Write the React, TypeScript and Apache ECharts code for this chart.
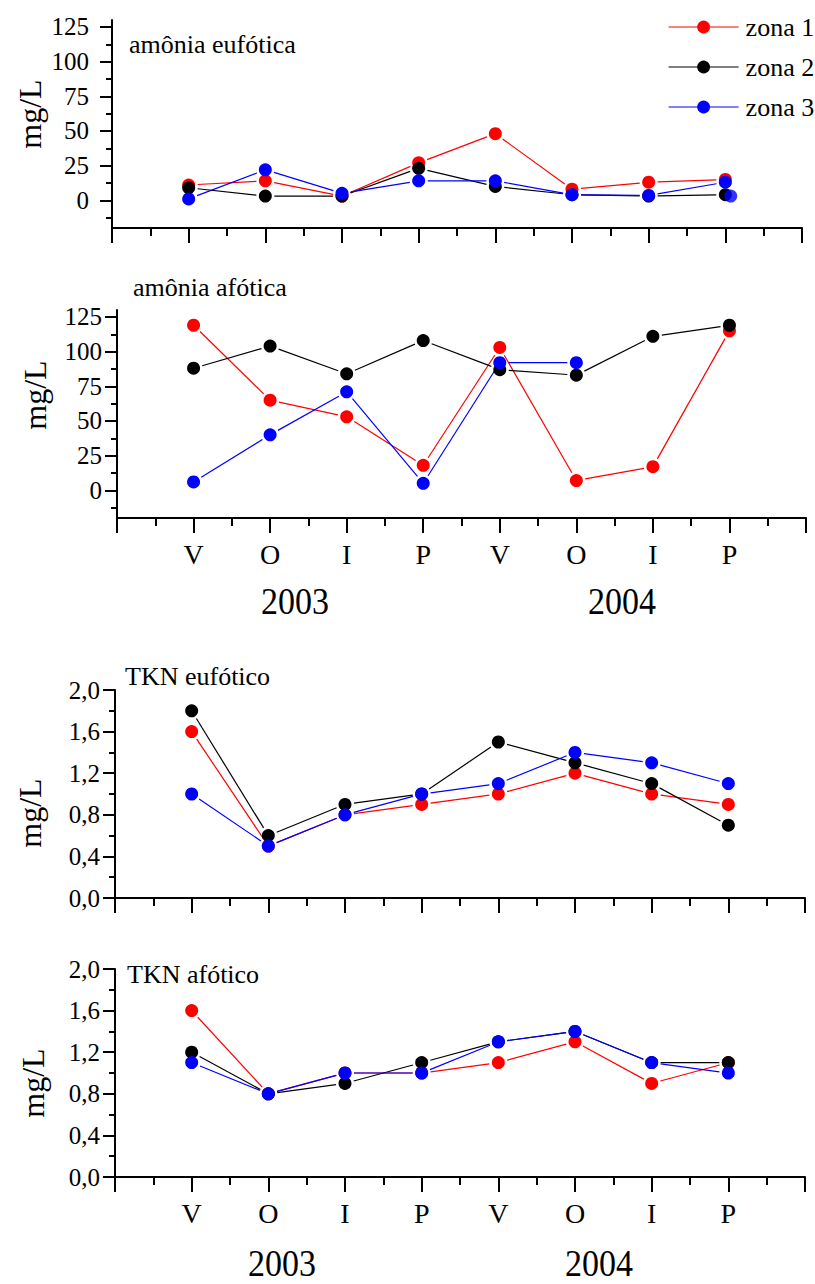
import React, { useEffect, useRef } from "react";
import * as echarts from "echarts";

// Campaign labels (V = verão, O = outono, I = inverno, P = primavera)
const seasons = ["V", "O", "I", "P", "V", "O", "I", "P"];
const years = ["2003", "2004"];
const zoneNames = ["zona 1", "zona 2", "zona 3"];
const zoneColors = ["#ff0000", "#000000", "#0000ff"];

// amônia, camada eufótica (mg/L)
const amoniaEufZona1 = [11, 14, 3, 27, 48, 8, 13, 15];
const amoniaEufZona2 = [9, 3, 3, 23, 10, 4, 3, 4];
const amoniaEufZona3 = [1, 22, 5, 14, 14, 4, 3.5, 13];
const amoniaEufZona3Extra = [[8.07, 3]];

// amônia, camada afótica (mg/L)
const amoniaAfoZona1 = [119, 65, 53, 18, 103, 7, 17, 115];
const amoniaAfoZona2 = [88, 104, 84, 108, 87, 83, 111, 119];
const amoniaAfoZona3 = [6, 40, 71, 5, 92, 92, null, null];

// TKN, camada eufótica (mg/L)
const tknEufZona1 = [1.6, 0.5, 0.8, 0.9, 1.0, 1.2, 1.0, 0.9];
const tknEufZona2 = [1.8, 0.6, 0.9, 1.0, 1.5, 1.3, 1.1, 0.7];
const tknEufZona3 = [1.0, 0.5, 0.8, 1.0, 1.1, 1.4, 1.3, 1.1];

// TKN, camada afótica (mg/L)
const tknAfoZona1 = [1.6, 0.8, 1.0, 1.0, 1.1, 1.3, 0.9, 1.1];
const tknAfoZona2 = [1.2, 0.8, 0.9, 1.1, 1.3, 1.4, 1.1, 1.1];
const tknAfoZona3 = [1.1, 0.8, 1.0, 1.0, 1.3, 1.4, 1.1, 1.0];

// Axis ticks
const amoniaTicks = [0, 25, 50, 75, 100, 125];
const amoniaMinorTicks = [-12.5, 12.5, 37.5, 62.5, 87.5, 112.5];

const FONT = "Liberation Serif";

type Panel = {
  title: string;
  data: (number | null)[][];
  kind: "amonia" | "tkn";
  grid: { left: number; top: number; width: number; height: number };
  showX: boolean;
  titleAt: [number, number];
  nameAt: [number, number];
  labelMargin: number;
  yearsY?: number;
  yearsX?: [number, number];
};

const panels: Panel[] = [
  {
    title: "amônia eufótica",
    data: [amoniaEufZona1, amoniaEufZona2, amoniaEufZona3],
    kind: "amonia",
    grid: { left: 112, top: 20, width: 690, height: 208 },
    showX: false,
    titleAt: [129, 44],
    nameAt: [30, 114],
    labelMargin: 23,
  },
  {
    title: "amônia afótica",
    data: [amoniaAfoZona1, amoniaAfoZona2, amoniaAfoZona3],
    kind: "amonia",
    grid: { left: 117, top: 310, width: 689, height: 208 },
    showX: true,
    titleAt: [133, 287],
    nameAt: [35, 395],
    labelMargin: 15,
    yearsY: 601,
    yearsX: [295, 622],
  },
  {
    title: "TKN eufótico",
    data: [tknEufZona1, tknEufZona2, tknEufZona3],
    kind: "tkn",
    grid: { left: 115, top: 690, width: 690, height: 208 },
    showX: false,
    titleAt: [125, 676],
    nameAt: [30, 813],
    labelMargin: 15,
  },
  {
    title: "TKN afótico",
    data: [tknAfoZona1, tknAfoZona2, tknAfoZona3],
    kind: "tkn",
    grid: { left: 115, top: 969, width: 690, height: 208 },
    showX: true,
    titleAt: [127, 974],
    nameAt: [33, 1083],
    labelMargin: 15,
    yearsY: 1263,
    yearsX: [282, 599],
  },
];

// Line segments between consecutive points, stopped short of the symbols
const segmentRenderer = (color: string) => (params: any, api: any) => {
  const a = api.coord([api.value(0), api.value(1)]);
  const b = api.coord([api.value(2), api.value(3)]);
  const dx = b[0] - a[0];
  const dy = b[1] - a[1];
  const len = Math.hypot(dx, dy);
  const gap = 9;
  if (len <= gap * 2) return { type: "group", children: [] };
  const ux = dx / len;
  const uy = dy / len;
  return {
    type: "line",
    shape: {
      x1: a[0] + ux * gap,
      y1: a[1] + uy * gap,
      x2: b[0] - ux * gap,
      y2: b[1] - uy * gap,
    },
    style: { stroke: color, lineWidth: 1.2 },
  };
};

const axisLineStyle = { color: "#000", width: 2 };

function buildOption() {
  const grids: any[] = [];
  const xAxes: any[] = [];
  const yAxes: any[] = [];
  const series: any[] = [];
  const graphics: any[] = [];

  panels.forEach((p, pi) => {
    grids.push({ ...p.grid });

    xAxes.push({
      type: "value",
      gridIndex: pi,
      position: "bottom",
      min: 0,
      max: 9,
      interval: 1,
      axisLine: { show: true, onZero: false, lineStyle: axisLineStyle },
      axisTick: { show: true, inside: false, length: 15, lineStyle: axisLineStyle },
      minorTick: { show: true, splitNumber: 2, length: 8, lineStyle: axisLineStyle },
      splitLine: { show: false },
      minorSplitLine: { show: false },
      axisLabel: {
        show: p.showX,
        margin: 22,
        fontSize: 28,
        fontFamily: FONT,
        color: "#000",
        formatter: (v: number) => (v >= 1 && v <= seasons.length ? seasons[v - 1] : ""),
      },
    });

    const yIndex = yAxes.length;
    if (p.kind === "amonia") {
      yAxes.push({
        type: "value",
        gridIndex: pi,
        position: "left",
        min: -20,
        max: 130,
        axisLine: { show: true, onZero: false, lineStyle: axisLineStyle },
        axisTick: { show: true, inside: false, length: 12, lineStyle: axisLineStyle, customValues: amoniaTicks },
        axisLabel: {
          customValues: amoniaTicks,
          margin: p.labelMargin,
          fontSize: 25,
          fontFamily: FONT,
          color: "#000",
        },
        splitLine: { show: false },
      });
      yAxes.push({
        type: "value",
        gridIndex: pi,
        position: "left",
        offset: 0,
        min: -20,
        max: 130,
        axisLine: { show: false, onZero: false },
        axisTick: { show: true, inside: false, length: 6, lineStyle: axisLineStyle, customValues: amoniaMinorTicks },
        axisLabel: { show: false },
        splitLine: { show: false },
      });
    } else {
      yAxes.push({
        type: "value",
        gridIndex: pi,
        position: "left",
        min: 0,
        max: 2,
        interval: 0.4,
        axisLine: { show: true, onZero: false, lineStyle: axisLineStyle },
        axisTick: { show: true, inside: false, length: 12, lineStyle: axisLineStyle },
        minorTick: { show: true, splitNumber: 2, length: 6, lineStyle: axisLineStyle },
        axisLabel: {
          margin: p.labelMargin,
          fontSize: 25,
          fontFamily: FONT,
          color: "#000",
          formatter: (v: number) => v.toFixed(1).replace(".", ","),
        },
        splitLine: { show: false },
        minorSplitLine: { show: false },
      });
    }

    p.data.forEach((values, zi) => {
      const segs: number[][] = [];
      for (let i = 0; i < values.length - 1; i++) {
        const v0 = values[i];
        const v1 = values[i + 1];
        if (v0 != null && v1 != null) segs.push([i + 1, v0, i + 2, v1]);
      }
      series.push({
        type: "custom",
        xAxisIndex: pi,
        yAxisIndex: yIndex,
        dimensions: ["x0", "y0", "x1", "y1"],
        encode: { x: ["x0", "x1"], y: ["y0", "y1"] },
        data: segs,
        renderItem: segmentRenderer(zoneColors[zi]),
        silent: true,
        z: 2,
      });
      const pts: number[][] = [];
      values.forEach((v, i) => {
        if (v != null) pts.push([i + 1, v]);
      });
      series.push({
        type: "line",
        name: zoneNames[zi],
        xAxisIndex: pi,
        yAxisIndex: yIndex,
        data: pts,
        symbol: "circle",
        symbolSize: 13,
        showSymbol: true,
        color: zoneColors[zi],
        itemStyle: { color: zoneColors[zi] },
        lineStyle: { opacity: 0, width: 1.2 },
        silent: true,
        z: 3,
      });
    });

    if (pi === 0) {
      series.push({
        type: "scatter",
        xAxisIndex: pi,
        yAxisIndex: yIndex,
        data: amoniaEufZona3Extra,
        symbol: "circle",
        symbolSize: 13,
        itemStyle: { color: zoneColors[2] },
        silent: true,
        z: 3,
      });
    }

    graphics.push({
      type: "text",
      x: p.titleAt[0],
      y: p.titleAt[1],
      style: {
        text: p.title,
        fontSize: 26,
        fontFamily: FONT,
        fill: "#000",
        align: "left",
        verticalAlign: "middle",
      },
    });
    graphics.push({
      type: "text",
      x: p.nameAt[0],
      y: p.nameAt[1],
      rotation: Math.PI / 2,
      style: {
        text: "mg/L",
        fontSize: 32,
        fontFamily: FONT,
        fill: "#000",
        align: "center",
        verticalAlign: "middle",
      },
    });
    if (p.yearsY != null && p.yearsX) {
      years.forEach((yr, k) => {
        graphics.push({
          type: "text",
          x: p.yearsX![k],
          y: p.yearsY,
          scaleY: 1.1,
          style: {
            text: yr,
            fontSize: 34,
            fontFamily: FONT,
            fill: "#000",
            align: "center",
            verticalAlign: "middle",
          },
        });
      });
    }
  });

  return {
    animation: false,
    backgroundColor: "#ffffff",
    grid: grids,
    xAxis: xAxes,
    yAxis: yAxes,
    series,
    graphic: graphics,
    legend: {
      orient: "vertical",
      left: 663,
      top: 9,
      itemWidth: 70,
      itemHeight: 16,
      itemGap: 14,
      selectedMode: false,
      data: zoneNames,
      lineStyle: { opacity: 1, width: 1.2 },
      textStyle: {
        fontSize: 26,
        fontFamily: FONT,
        color: "#000",
        lineHeight: 26,
        padding: [0, 0, 0, 2],
      },
    },
  };
}

export default function App() {
  const ref = useRef<HTMLDivElement>(null);
  useEffect(() => {
    if (!ref.current) return;
    const chart = echarts.init(ref.current, undefined, { renderer: "svg" });
    chart.setOption(buildOption() as any);
    return () => chart.dispose();
  }, []);
  return (
    <div
      ref={ref}
      style={{ position: "absolute", left: 0, top: 0, width: 815, height: 1284, background: "#fff" }}
    />
  );
}
